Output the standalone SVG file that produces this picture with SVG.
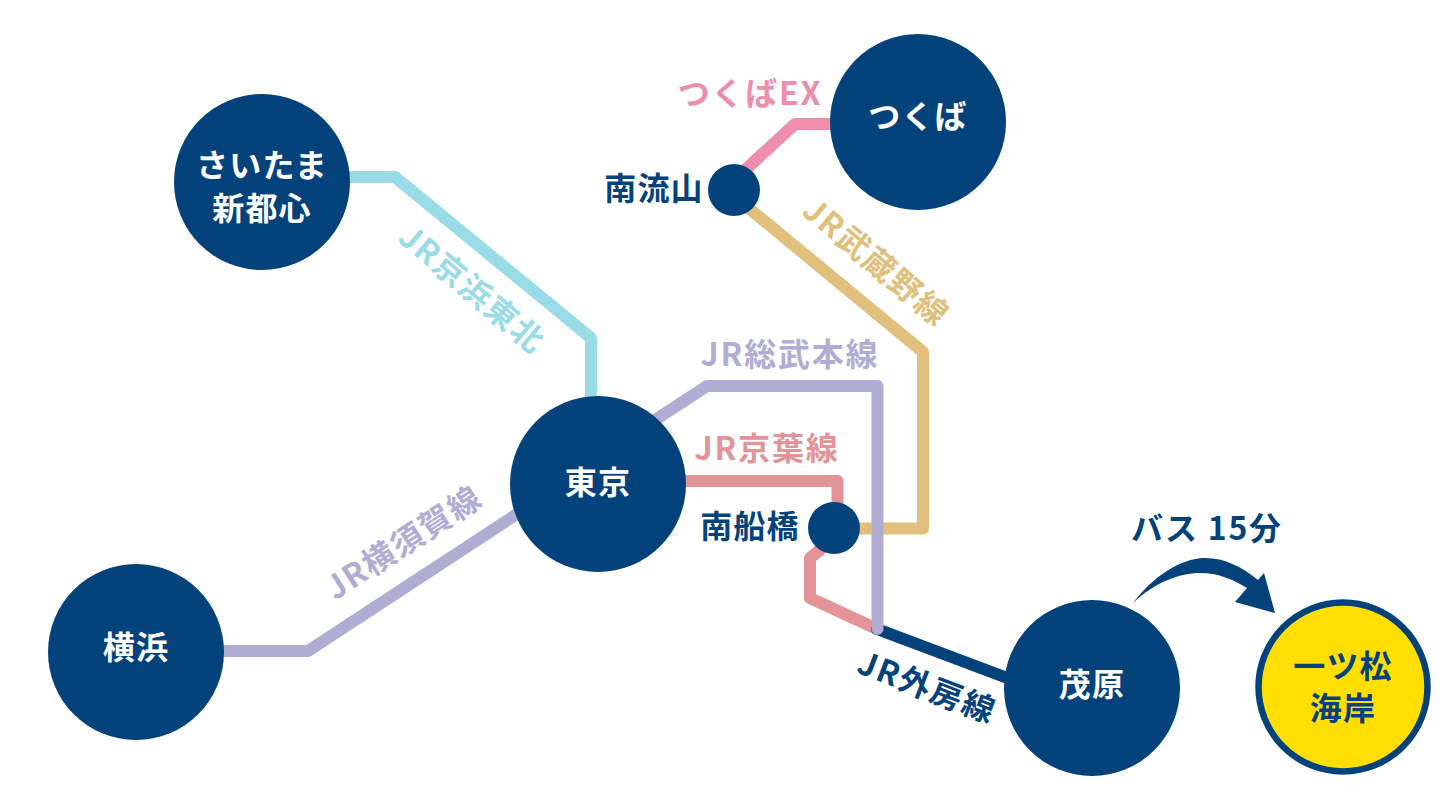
<svg xmlns="http://www.w3.org/2000/svg" width="1456" height="800" viewBox="0 0 1456 800">
<style>
text{font-family:"Noto Sans CJK JP","Noto Sans",sans-serif;font-weight:700;text-anchor:middle;letter-spacing:1.2px;font-size:32px}
.w{fill:#fff}
.n{fill:#04427c}
.j{letter-spacing:1.8px}
.l{fill:none;stroke-width:12;stroke-linejoin:round;stroke-linecap:round}
.c{fill:#04427c}
</style>
<rect width="1456" height="800" fill="#fff"/>
<g id="connectors">
<path class="l" stroke="#99dce6" d="M340 177H395L591 338V410"/>
<path class="l" stroke="#ee8dac" d="M745 170L795 124H840"/>
<path class="l" stroke="#e0c07c" d="M745 205L923 352V528.500H850"/>
<path class="l" stroke="#e29498" d="M680 481H837.500V510"/>
<path class="l" stroke="#e29498" d="M820 550L810 558V598L877 629"/>
<path class="l" stroke="#04427c" d="M877 629L1010 679"/>
<path class="l" stroke="#b1add2" d="M655 420L707 386H877.500V629"/>
<path class="l" stroke="#b1add2" d="M215 651H308L520 512"/>
<path d="M1133 603C1160 568 1188 558 1205 558C1225 558 1242 567 1258 580L1264 573L1275 613L1235 602L1247 588C1232 579 1218 573 1200 573C1180 573 1155 582 1133 603Z" fill="#04427c"/>
</g>
<g id="saitama"><circle class="c" cx="262" cy="182" r="88"/><text class="w" x="262" y="177">さいたま</text><text class="w" x="262" y="220">新都心</text></g>
<g id="tsukuba"><circle class="c" cx="918" cy="122" r="88"/><text class="w" x="918" y="128">つくば</text></g>
<g id="minaminagareyama"><circle class="c" cx="734" cy="190" r="26"/><text class="n" x="654" y="200">南流山</text></g>
<g id="tokyo"><circle class="c" cx="598" cy="484" r="88"/><text class="w" x="598" y="494">東京</text></g>
<g id="minamifunabashi"><circle class="c" cx="834" cy="528" r="26"/><text class="n" x="750" y="538">南船橋</text></g>
<g id="yokohama"><circle class="c" cx="136" cy="652" r="88"/><text class="w" x="136" y="659">横浜</text></g>
<g id="mobara"><circle class="c" cx="1092" cy="688" r="88"/><text class="w" x="1092" y="696">茂原</text></g>
<g id="hitotsumatsu"><circle cx="1343" cy="687" r="84.500" fill="#ffde00" stroke="#04427c" stroke-width="6.500"/><text class="n" x="1343" y="678">一ツ松</text><text class="n" x="1343" y="720">海岸</text></g>
<g id="labels">
<text class="j" x="750" y="105" fill="#ee8dac">つくばEX</text>
<text class="j" transform="translate(869 271) rotate(40)" fill="#e0c07c">JR武蔵野線</text>
<text class="j" transform="translate(465 298) rotate(40)" fill="#99dce6">JR京浜東北</text>
<text class="j" x="790" y="366" fill="#b1add2">JR総武本線</text>
<text class="j" x="767" y="460" fill="#e29498">JR京葉線</text>
<text class="j" transform="translate(410 552) rotate(-33)" fill="#b1add2">JR横須賀線</text>
<text class="j" transform="translate(923 698) rotate(21)" fill="#04427c">JR外房線</text>
<text class="j" x="1207" y="540" fill="#04427c">バス 15分</text>
</g>
</svg>
